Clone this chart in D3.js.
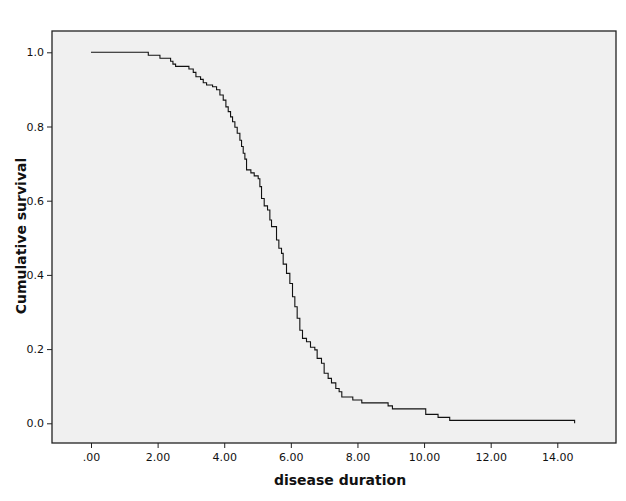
<!DOCTYPE html>
<html>
<head>
<meta charset="utf-8">
<script src="https://cdn.jsdelivr.net/npm/d3@7"></script>
<style>
  body { margin: 0; background: #fff; }
  text { font-family: "DejaVu Sans", Verdana, sans-serif; }
</style>
</head>
<body>
<div id="chart"></div>
<script>
// survival curve: step times and survival after each step
var stepTimes = [0, 1.72, 2.07, 2.39, 2.46, 2.54, 2.94, 3.07, 3.15, 3.29, 3.37, 3.47, 3.65, 3.77,
    3.87, 3.97, 4.05, 4.12, 4.19, 4.25, 4.32, 4.39, 4.47, 4.52, 4.57, 4.62, 4.67, 4.80, 4.90,
    5.02, 5.07, 5.12, 5.20, 5.30, 5.37, 5.42, 5.57, 5.64, 5.72, 5.77, 5.87, 5.97, 6.05, 6.12,
    6.19, 6.27, 6.35, 6.47, 6.59, 6.72, 6.79, 6.92, 7.00, 7.12, 7.22, 7.35, 7.45, 7.53, 7.86,
    8.13, 8.92, 9.05, 10.05, 10.42, 10.77, 14.52];
var survival = [1.0, 0.992, 0.984, 0.976, 0.968, 0.962, 0.955, 0.946, 0.934, 0.927, 0.918, 0.912, 0.907, 0.899,
    0.885, 0.871, 0.853, 0.840, 0.826, 0.813, 0.798, 0.782, 0.763, 0.746, 0.728, 0.712, 0.683, 0.675, 0.667,
    0.659, 0.638, 0.606, 0.586, 0.575, 0.548, 0.530, 0.494, 0.472, 0.458, 0.429, 0.404, 0.377, 0.341, 0.314,
    0.283, 0.251, 0.229, 0.220, 0.205, 0.198, 0.175, 0.162, 0.135, 0.121, 0.109, 0.094, 0.085, 0.071, 0.063,
    0.055, 0.047, 0.039, 0.024, 0.016, 0.008, 0.0];
var xTicks = [0, 2, 4, 6, 8, 10, 12, 14];
var yTicks = [0, 0.2, 0.4, 0.6, 0.8, 1.0];

var width = 626, height = 501;
var box = {left: 52, top: 31, right: 616, bottom: 443};

var svg = d3.select("#chart").append("svg")
    .attr("width", width)
    .attr("height", height);

// x: 0 at 91px, 14 at 557.3px
var x = d3.scaleLinear().domain([0, 14]).range([91, 557.3]);
var y = d3.scaleLinear().domain([0, 1]).range([423.3, 52.3]);

svg.append("rect")
    .attr("x", box.left)
    .attr("y", box.top)
    .attr("width", box.right - box.left)
    .attr("height", box.bottom - box.top)
    .attr("fill", "#f0f0f0")
    .attr("stroke", "none");

var pts = stepTimes.map((t, i) => [t, survival[i]]);
var line = d3.line()
    .x(d => x(d[0]))
    .y(d => y(d[1]))
    .curve(d3.curveStepAfter);
svg.append("path")
    .attr("d", line(pts))
    .attr("fill", "none")
    .attr("stroke", "#111")
    .attr("stroke-width", 1.1);

// axes
var yAxis = d3.axisLeft(y)
    .tickValues(yTicks)
    .tickSize(5)
    .tickPadding(3)
    .tickFormat(d3.format(".1f"));
var gy = svg.append("g")
    .attr("transform", "translate(" + box.left + ",0)")
    .call(yAxis);

var xAxis = d3.axisBottom(x)
    .tickValues(xTicks)
    .tickSize(5)
    .tickPadding(5)
    .tickFormat(d => d === 0 ? ".00" : d3.format(".2f")(d));
var gx = svg.append("g")
    .attr("transform", "translate(0," + box.bottom + ")")
    .call(xAxis);

[gx, gy].forEach(g => {
    g.select(".domain").remove();
    g.selectAll("line").attr("stroke", "#222");
    g.selectAll("text")
        .attr("font-size", 11)
        .attr("fill", "#111")
        .style("font-family", "DejaVu Sans, sans-serif");
});

// frame
svg.append("rect")
    .attr("x", box.left)
    .attr("y", box.top)
    .attr("width", box.right - box.left)
    .attr("height", box.bottom - box.top)
    .attr("fill", "none")
    .attr("stroke", "#222")
    .attr("stroke-width", 1.3);

svg.append("text")
    .attr("x", 340)
    .attr("y", 485)
    .attr("text-anchor", "middle")
    .attr("font-size", 14)
    .attr("font-weight", "bold")
    .attr("fill", "#111")
    .text("disease duration");

svg.append("text")
    .attr("transform", "translate(26,236) rotate(-90)")
    .attr("text-anchor", "middle")
    .attr("font-size", 14)
    .attr("font-weight", "bold")
    .attr("fill", "#111")
    .text("Cumulative survival");
</script>
</body>
</html>
